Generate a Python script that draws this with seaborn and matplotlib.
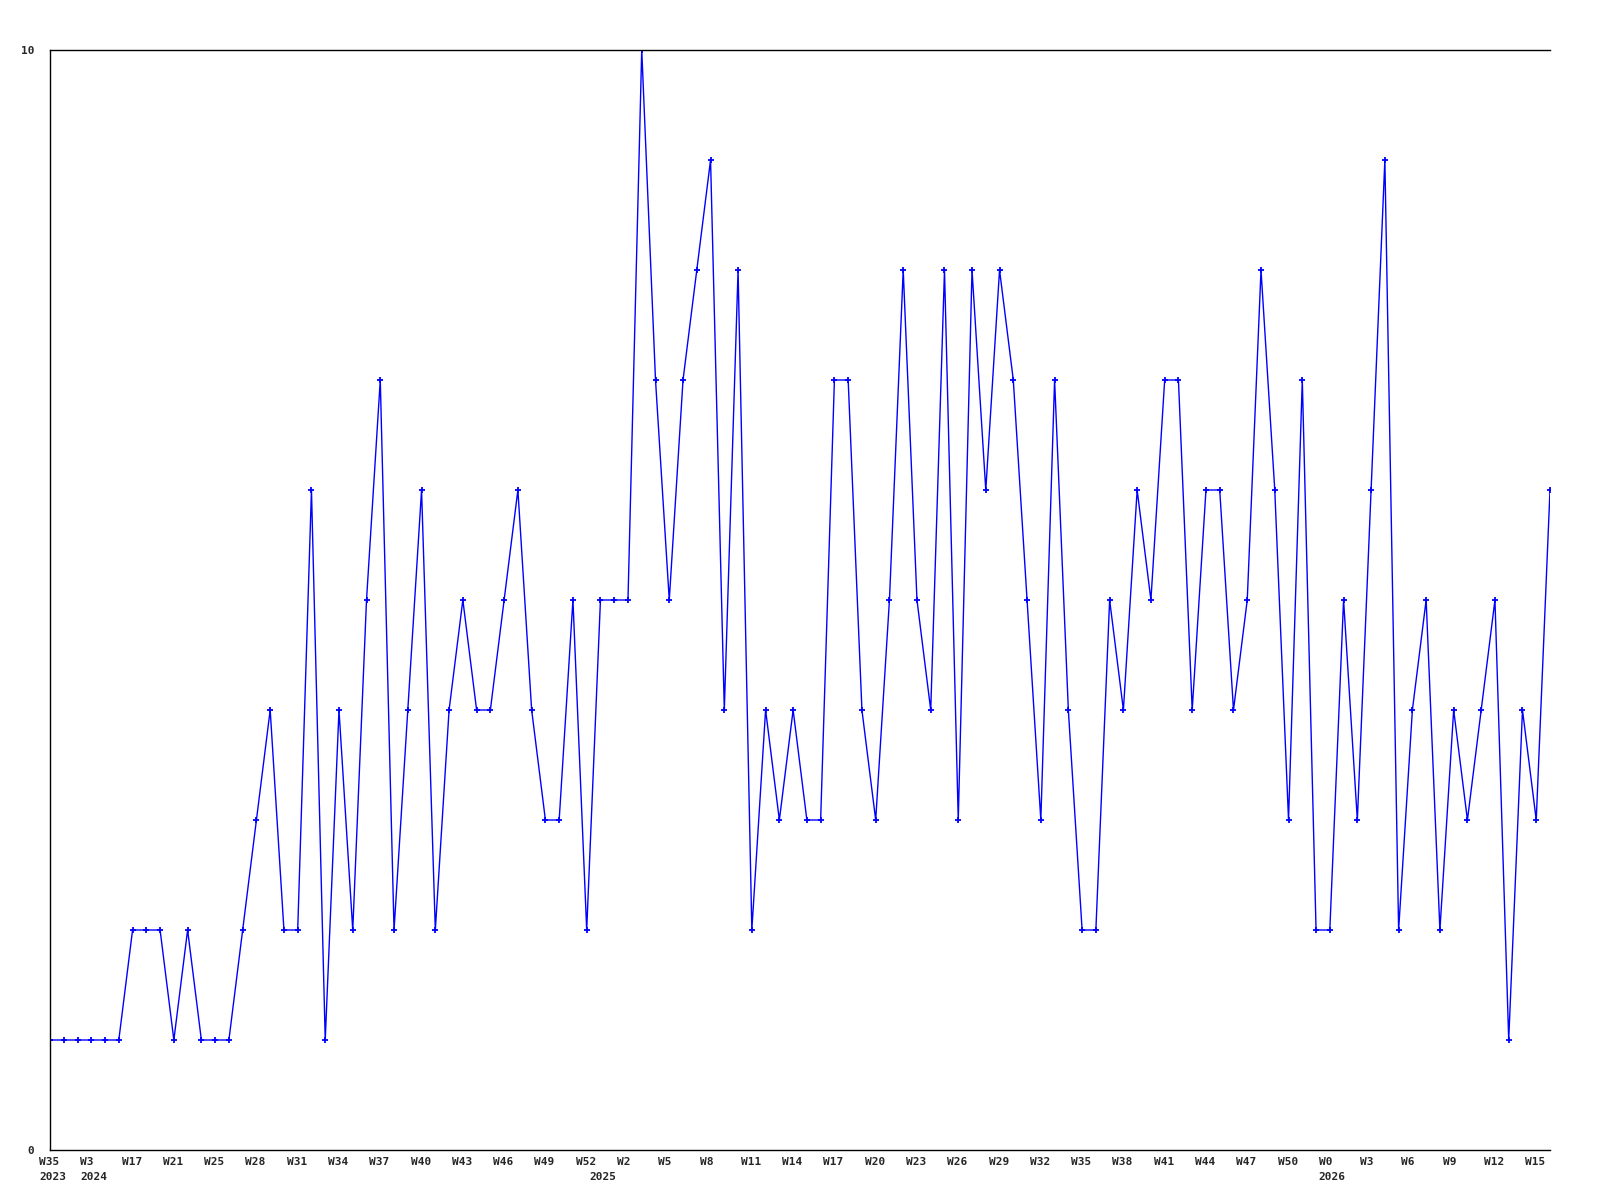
import numpy as np
import pandas as pd
import matplotlib
matplotlib.use("Agg")
import matplotlib.pyplot as plt
import matplotlib.transforms as mtrans
import seaborn as sns

# weekly counts
values = [1, 1, 1, 1, 1, 1, 2, 2, 2, 1,
          2, 1, 1, 1, 2, 3, 4, 2, 2, 6,
          1, 4, 2, 5, 7, 2, 4, 6, 2, 4,
          5, 4, 4, 5, 6, 4, 3, 3, 5, 2,
          5, 5, 5, 10, 7, 5, 7, 8, 9, 4,
          8, 2, 4, 3, 4, 3, 3, 7, 7, 4,
          3, 5, 8, 5, 4, 8, 3, 8, 6, 8,
          7, 5, 3, 7, 4, 2, 2, 5, 4, 6,
          5, 7, 7, 4, 6, 6, 4, 5, 8, 6,
          3, 7, 2, 2, 5, 3, 6, 9, 2, 4,
          5, 2, 4, 3, 4, 5, 1, 4, 3, 6]

# tick labels every third point
tick_labels = ["W35", "W3", "W17", "W21", "W25", "W28", "W31", "W34", "W37",
               "W40", "W43", "W46", "W49", "W52", "W2", "W5", "W8", "W11",
               "W14", "W17", "W20", "W23", "W26", "W29", "W32", "W35", "W38",
               "W41", "W44", "W47", "W50", "W0", "W3", "W6", "W9", "W12", "W15"]

# year labels and the point where each year starts
years = ["2023", "2024", "2025", "2026"]
year_pos = [0, 3, 40, 93]

df = pd.DataFrame({"idx": np.arange(len(values)), "count": values})

sns.set_style("white")
plt.rcParams['font.family'] = ['DejaVu Sans Mono']

fig = plt.figure(figsize=(16, 12), dpi=100)
ax = fig.add_axes([50 / 1600, 50 / 1200, 1500 / 1600, 1100 / 1200])

sns.lineplot(data=df, x="idx", y="count", ax=ax, color="#0000ff",
             linewidth=1.0, marker="+", markersize=4, markeredgewidth=1.3,
             markeredgecolor="#0000ff")

ax.set_xlim(0, len(values) - 1)
ax.set_ylim(0, 10)
ax.set_xlabel("")
ax.set_ylabel("")

for side in ["left", "bottom", "top"]:
    ax.spines[side].set_visible(True)
    ax.spines[side].set_color("black")
    ax.spines[side].set_linewidth(1)
ax.spines["right"].set_visible(False)

ax.set_yticks([0, 10])
ax.set_yticklabels(["0", "10"], fontsize=8, fontweight="bold")
ax.tick_params(axis="y", length=0, pad=11.5)

ax.set_xticks(np.arange(0, len(values), 3))
ax.set_xticklabels(tick_labels, fontsize=8, fontweight="bold")
ax.tick_params(axis="x", length=0, pad=5)
shift = mtrans.ScaledTranslation(-11 / 100, 0, fig.dpi_scale_trans)
for lab in ax.get_xticklabels():
    lab.set_ha("left")
    lab.set_transform(lab.get_transform() + shift)

trans = mtrans.blended_transform_factory(ax.transData, ax.transAxes)
for yr, pos in zip(years, year_pos):
    ax.text(pos, 0, yr, transform=trans + shift + mtrans.ScaledTranslation(0, -22 / 100, fig.dpi_scale_trans),
            ha="left", va="top", fontsize=8, fontweight="bold")

fig.savefig("out.png", dpi=100, facecolor="white")
